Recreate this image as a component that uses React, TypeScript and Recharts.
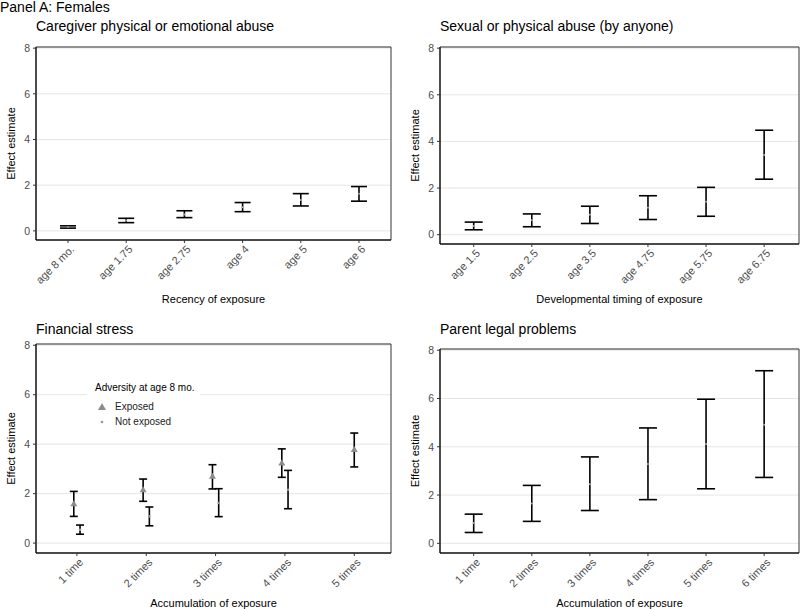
import React from 'react';
import {
    ScatterChart,
    Scatter,
    ErrorBar,
    XAxis,
    YAxis,
    CartesianGrid,
    ReferenceArea,
    Legend
} from 'recharts';

// Panel 1: caregiver abuse by recency
const recencyLabels = ['age 8 mo.', 'age 1.75', 'age 2.75', 'age 4', 'age 5', 'age 6'];
const recencyEst = [0.17, 0.45, 0.72, 1.03, 1.35, 1.62];
const recencyLow = [0.12, 0.36, 0.58, 0.84, 1.09, 1.30];
const recencyHigh = [0.22, 0.55, 0.88, 1.24, 1.63, 1.94];

// Panel 2: sexual / physical abuse by timing
const timingLabels = ['age 1.5', 'age 2.5', 'age 3.5', 'age 4.75', 'age 5.75', 'age 6.75'];
const timingEst = [0.37, 0.62, 0.85, 1.16, 1.41, 3.42];
const timingLow = [0.21, 0.34, 0.48, 0.65, 0.79, 2.38];
const timingHigh = [0.54, 0.89, 1.22, 1.67, 2.03, 4.48];

// Panel 3: financial stress by accumulation, split by exposure at 8 mo.
const financialLabels = ['1 time', '2 times', '3 times', '4 times', '5 times'];
const finExposedEst = [1.59, 2.16, 2.70, 3.24, 3.78];
const finExposedLow = [1.08, 1.69, 2.19, 2.66, 3.08];
const finExposedHigh = [2.09, 2.59, 3.17, 3.81, 4.45];
const finNotExposedEst = [0.54, 1.08, 1.62, 2.16];
const finNotExposedLow = [0.36, 0.70, 1.07, 1.39];
const finNotExposedHigh = [0.73, 1.46, 2.20, 2.94];

// Panel 4: parent legal problems by accumulation
const legalLabels = ['1 time', '2 times', '3 times', '4 times', '5 times', '6 times'];
const legalEst = [0.84, 1.65, 2.45, 3.29, 4.11, 4.91];
const legalLow = [0.45, 0.91, 1.36, 1.81, 2.26, 2.73];
const legalHigh = [1.21, 2.40, 3.58, 4.78, 5.97, 7.15];

const yTicks = [0, 2, 4, 6, 8];
const FONT = '"Liberation Sans", Arial, sans-serif';
const DODGE = 0.045;

const toRows = (est: number[], low: number[], high: number[], shift: (i: number) => number = () => 0) =>
    est.map((v, i) => ({ x: i + shift(i), y: v, err: [v - low[i], high[i] - v] }));

const AngledTick = (props: any) => {
    const { x, y, payload, labels } = props;
    return (
        <g transform={`translate(${x + 1.5},${y + 1.5}) rotate(-45)`}>
            <text x={0} y={0} dy="0.71em" textAnchor="end" fontSize={11} fill="#4d4d4d">
                {labels[payload.value]}
            </text>
        </g>
    );
};

const dot = (r: number, fill: string) => (p: any) => <circle cx={p.cx} cy={p.cy} r={r} fill={fill} />;
const triangle = (p: any) => (
    <path d={`M${p.cx},${p.cy - 3.5} L${p.cx + 3.5},${p.cy + 2.5} L${p.cx - 3.5},${p.cy + 2.5} Z`} fill="#8c8c8c" />
);

const LegendBox = () => (
    <div style={{ fontFamily: FONT, fontSize: 10, background: '#fff', padding: '3px 0 0 8px', width: 105, height: 53, whiteSpace: 'nowrap' }}>
        <div style={{ color: '#000', lineHeight: '12px', marginBottom: 5 }}>Adversity at age 8 mo.</div>
        <div style={{ display: 'flex', alignItems: 'center', height: 15, color: '#222' }}>
            <svg width={14} height={10}><path d="M7,1 L11,8 L3,8 Z" fill="#8c8c8c" /></svg>
            <span style={{ marginLeft: 6 }}>Exposed</span>
        </div>
        <div style={{ display: 'flex', alignItems: 'center', height: 15, color: '#222' }}>
            <svg width={14} height={10}><circle cx={7} cy={5} r={1.3} fill="#999" /></svg>
            <span style={{ marginLeft: 6 }}>Not exposed</span>
        </div>
    </div>
);

interface PanelProps {
    left: number;
    top: number;
    height: number;
    titleTop: number;
    margin: { top: number; right: number; left: number; bottom: number };
    xAxisHeight: number;
    xDomain: [number, number];
    labels: string[];
    title: string;
    xTitle: string;
    series: { rows: any[]; shape: any; cap: number }[];
    legend?: boolean;
}

const Panel: React.FC<PanelProps> = ({ left, top, height, titleTop, margin, xAxisHeight, xDomain, labels, title, xTitle, series, legend }) => {
    const yDomain: [number, number] = [-0.4, 8.05];
    return (
        <div style={{ position: 'absolute', left, top, width: 400, height }}>
            <div style={{ position: 'absolute', left: margin.left + 20, top: titleTop, fontSize: 14, color: '#000', whiteSpace: 'nowrap' }}>
                {title}
            </div>
            <ScatterChart width={400} height={height} margin={margin}>
                <CartesianGrid vertical={false} stroke="#e6e6e6" strokeWidth={1} />
                <XAxis
                    dataKey="x"
                    type="number"
                    domain={xDomain}
                    ticks={labels.map((_, i) => i)}
                    allowDataOverflow
                    height={xAxisHeight}
                    tickSize={3}
                    tickMargin={0}
                    tickLine={{ stroke: '#333' }}
                    axisLine={{ stroke: '#000' }}
                    tick={<AngledTick labels={labels} />}
                    interval={0}
                    label={{ value: xTitle, position: 'insideBottom', offset: 2, fontSize: 11, fill: '#000' }}
                />
                <YAxis
                    dataKey="y"
                    type="number"
                    domain={yDomain}
                    ticks={yTicks}
                    allowDataOverflow
                    width={20}
                    tickSize={3}
                    tickMargin={3}
                    tickLine={{ stroke: '#333' }}
                    axisLine={{ stroke: '#000' }}
                    tick={{ fontSize: 10.5, fill: '#4d4d4d' }}
                    label={{ value: 'Effect estimate', angle: -90, position: 'insideLeft', offset: -5, style: { textAnchor: 'middle' }, fontSize: 11, fill: '#000' }}
                />
                <ReferenceArea x1={xDomain[0]} x2={xDomain[1]} y1={yDomain[0]} y2={yDomain[1]} fill="none" stroke="#333" strokeWidth={1} />
                {series.map((s, i) => (
                    <Scatter key={i} data={s.rows} shape={s.shape} isAnimationActive={false}>
                        <ErrorBar dataKey="err" direction="y" width={s.cap} stroke="#000" strokeWidth={1.6} />
                    </Scatter>
                ))}
                {legend && (
                    <Legend
                        layout="vertical"
                        align="center"
                        verticalAlign="middle"
                        content={<LegendBox />}
                        wrapperStyle={{ left: 87, top: 74, width: 113 }}
                    />
                )}
            </ScatterChart>
        </div>
    );
};

const App: React.FC = () => {
    const hasNotExposed = (i: number) => i < finNotExposedEst.length;
    return (
        <div style={{ position: 'absolute', left: 0, top: 0, width: 800, height: 609, background: '#fff', fontFamily: FONT, overflow: 'hidden' }}>
            <div style={{ position: 'absolute', left: 0, top: 0, fontSize: 14, lineHeight: '14px', color: '#000', whiteSpace: 'nowrap' }}>Panel A: Females</div>
            <Panel
                left={0}
                top={0}
                height={305}
                titleTop={18}
                margin={{ top: 47, right: 9, left: 16, bottom: 0 }}
                xAxisHeight={65}
                xDomain={[-0.55, 5.55]}
                labels={recencyLabels}
                title="Caregiver physical or emotional abuse"
                xTitle="Recency of exposure"
                series={[{ rows: toRows(recencyEst, recencyLow, recencyHigh), shape: dot(1, '#aaa'), cap: 8 }]}
            />
            <Panel
                left={400}
                top={0}
                height={305}
                titleTop={18}
                margin={{ top: 47, right: 1, left: 20, bottom: 0 }}
                xAxisHeight={61}
                xDomain={[-0.58, 5.6]}
                labels={timingLabels}
                title="Sexual or physical abuse (by anyone)"
                xTitle="Developmental timing of exposure"
                series={[{ rows: toRows(timingEst, timingLow, timingHigh), shape: dot(1, '#aaa'), cap: 9 }]}
            />
            <Panel
                left={0}
                top={305}
                height={304}
                titleTop={16}
                margin={{ top: 39, right: 9, left: 16, bottom: 0 }}
                xAxisHeight={56}
                xDomain={[-0.59, 4.53]}
                labels={financialLabels}
                title="Financial stress"
                xTitle="Accumulation of exposure"
                legend
                series={[
                    { rows: toRows(finExposedEst, finExposedLow, finExposedHigh, (i) => (hasNotExposed(i) ? -DODGE : 0)), shape: triangle, cap: 4 },
                    { rows: toRows(finNotExposedEst, finNotExposedLow, finNotExposedHigh, () => DODGE), shape: dot(1.3, '#999'), cap: 4 }
                ]}
            />
            <Panel
                left={400}
                top={305}
                height={304}
                titleTop={16}
                margin={{ top: 44, right: 1, left: 20, bottom: 0 }}
                xAxisHeight={56}
                xDomain={[-0.58, 5.6]}
                labels={legalLabels}
                title="Parent legal problems"
                xTitle="Accumulation of exposure"
                series={[{ rows: toRows(legalEst, legalLow, legalHigh), shape: dot(1, '#aaa'), cap: 9 }]}
            />
        </div>
    );
};

export default App;
